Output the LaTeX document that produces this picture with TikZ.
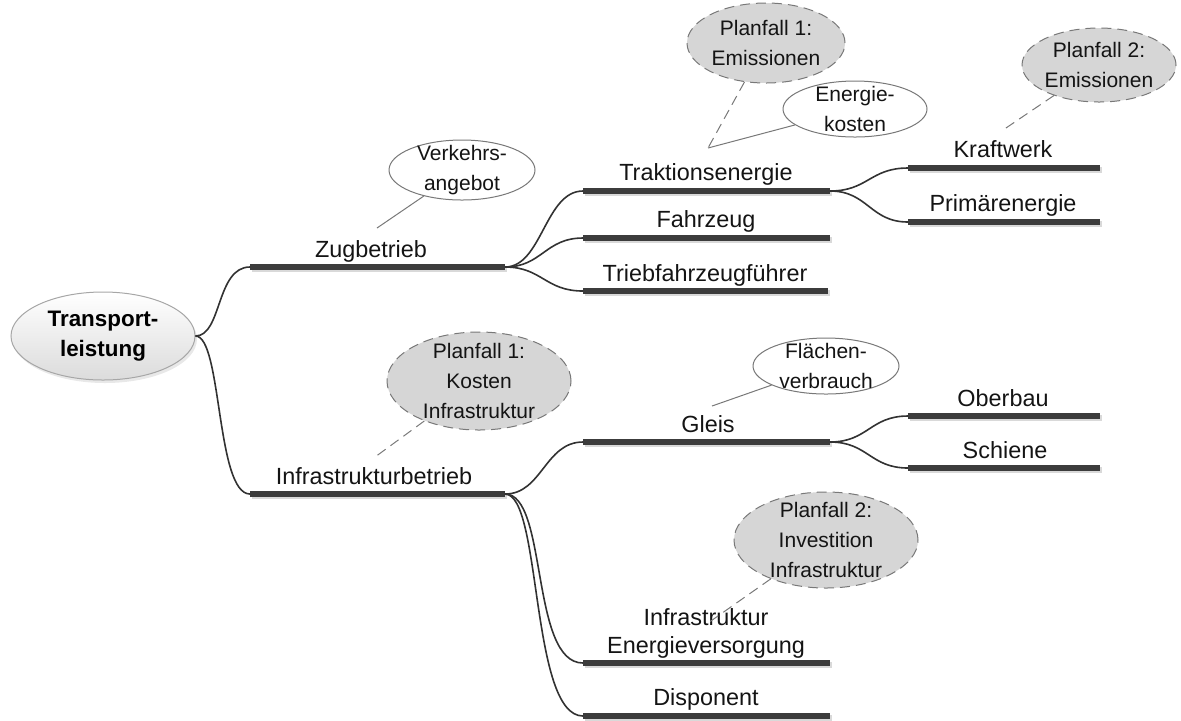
\documentclass[tikz,border=0pt]{standalone}
\usepackage{fontspec}
\setmainfont{Liberation Sans}
\usetikzlibrary{shapes.geometric}
\definecolor{barc}{RGB}{60,60,60}
\definecolor{connc}{RGB}{50,50,50}
\definecolor{txt}{RGB}{20,20,20}
\definecolor{bubfill}{RGB}{214,214,214}
\definecolor{bubline}{RGB}{120,120,120}
\begin{document}
\begin{tikzpicture}[x=0.5pt,y=-0.5pt,
  bar/.style={line width=2.8pt, draw=barc},
  barshadow/.style={line width=2.8pt, draw=gray!30},
  conn/.style={line width=0.8pt, draw=connc},
  lbl/.style={font=\fontsize{11.7}{14}\selectfont, anchor=base, inner sep=0pt, text=txt, align=center},
  bub/.style={ellipse, draw=bubline, line width=0.5pt, fill=white, inner sep=0pt},
  pbub/.style={bub, fill=bubfill, dash pattern=on 5pt off 3pt},
  btxt/.style={font=\fontsize{10.5}{15}\selectfont, align=center, text=txt, inner sep=0pt},
  tie/.style={draw=bubline, line width=0.5pt},
  ptie/.style={tie, dash pattern=on 5pt off 3pt}]
\useasboundingbox (0,0) rectangle (1181,720);

% central node
\fill[gray!18] (105,339) ellipse [x radius=92, y radius=44];
\node[ellipse, draw=gray!70, line width=0.5pt, top color=white, bottom color=gray!28,
  inner sep=0pt, minimum width=92pt, minimum height=44pt,
  font=\fontsize{11.2}{15}\selectfont\bfseries, align=center] (trans) at (103,336) {Transport-\\leistung};

% bar coordinates
\coordinate (zugL) at (250,267);  \coordinate (zugR) at (505,267);
\coordinate (infL) at (250,494);  \coordinate (infR) at (505,494);
\coordinate (traL) at (583,191);  \coordinate (traR) at (830,191);
\coordinate (fahL) at (583,238);  \coordinate (fahR) at (830,238);
\coordinate (triL) at (583,291);  \coordinate (triR) at (828,291);
\coordinate (kraL) at (908,168);  \coordinate (kraR) at (1100,168);
\coordinate (priL) at (908,222);  \coordinate (priR) at (1100,222);
\coordinate (gleL) at (583,442);  \coordinate (gleR) at (830,442);
\coordinate (oatL) at (908,416);  \coordinate (oatR) at (1100,416);
\coordinate (schL) at (908,468);  \coordinate (schR) at (1100,468);
\coordinate (ievL) at (583,663);  \coordinate (ievR) at (830,663);
\coordinate (disL) at (583,716);  \coordinate (disR) at (830,716);

% shadows and bars
\foreach \b in {zug,inf,tra,fah,tri,kra,pri,gle,oat,sch,iev,dis}{
  \draw[barshadow] ([shift={(1.5,2)}]\b L) -- ([shift={(1.5,2)}]\b R);
  \draw[bar] (\b L) -- (\b R);
}

% connectors
\draw[conn] (trans.east) .. controls (222,336) and (216,267) .. (zugL);
\draw[conn] (trans.east) .. controls (222,336) and (216,494) .. (infL);
\draw[conn] (zugR) .. controls (542,267) and (545,191) .. (traL);
\draw[conn] (zugR) .. controls (542,267) and (545,238) .. (fahL);
\draw[conn] (zugR) .. controls (542,267) and (545,291) .. (triL);
\draw[conn] (traR) .. controls (868,191) and (870,168) .. (kraL);
\draw[conn] (traR) .. controls (868,191) and (870,222) .. (priL);
\draw[conn] (gleR) .. controls (868,442) and (870,416) .. (oatL);
\draw[conn] (gleR) .. controls (868,442) and (870,468) .. (schL);
\draw[conn] (infR) .. controls (542,494) and (545,442) .. (gleL);
\draw[conn] (infR) .. controls (548,494) and (530,663) .. (ievL);
\draw[conn] (infR) .. controls (542,494) and (530,716) .. (disL);

% labels
\node[lbl] (zug) at (371,257) {Zugbetrieb};
\node[lbl] (inf) at (374,484) {Infrastrukturbetrieb};
\node[lbl] (tra) at (706,180) {Traktionsenergie};
\node[lbl] (fah) at (706,227) {Fahrzeug};
\node[lbl] (tri) at (705,281) {Triebfahrzeugführer};
\node[lbl] (kra) at (1003,157) {Kraftwerk};
\node[lbl] (pri) at (1003,211) {Primärenergie};
\node[lbl] (gle) at (708,432) {Gleis};
\node[lbl] (oat) at (1003,406) {Oberbau};
\node[lbl] (sch) at (1005,458) {Schiene};
\node[lbl] (iev) at (706,653) {Infrastruktur\\Energieversorgung};
\node[lbl] (dis) at (706,705) {Disponent};

% bubble tie ends
\coordinate (zugTip) at (377,228);
\coordinate (traTip) at (708,148);
\coordinate (kraTip) at (1003,130);
\coordinate (infTip) at (375,457);
\coordinate (gleTip) at (712,406);
\coordinate (ievTip) at (708,623);

% bubbles
\node[bub, minimum width=73pt, minimum height=30pt] (verk) at (462,170) {};
\node[pbub, minimum width=79pt, minimum height=40pt] (pf1e) at (766,43) {};
\node[bub, minimum width=72pt, minimum height=28pt] (ener) at (855,109) {};
\node[pbub, minimum width=77pt, minimum height=37pt] (pf2e) at (1099,65) {};
\node[pbub, minimum width=92pt, minimum height=49pt] (pf1k) at (479,381) {};
\node[bub, minimum width=73pt, minimum height=28pt] (flae) at (826,366) {};
\node[pbub, minimum width=92pt, minimum height=48pt] (pf2i) at (826,540) {};

\draw[tie] (verk) -- (zugTip);
\draw[ptie] (pf1e) -- (traTip);
\draw[tie] (ener) -- (traTip);
\draw[ptie] (pf2e) -- (kraTip);
\draw[ptie] (pf1k) -- (infTip);
\draw[tie] (flae) -- (gleTip);
\draw[ptie] (pf2i) -- (ievTip);

\node[btxt] (verkT) at (verk) {Verkehrs-\\angebot};
\node[btxt] (pf1eT) at (pf1e) {Planfall 1:\\Emissionen};
\node[btxt] (enerT) at (ener) {Energie-\\kosten};
\node[btxt] (pf2eT) at (pf2e) {Planfall 2:\\Emissionen};
\node[btxt] (pf1kT) at (pf1k) {Planfall 1:\\Kosten\\Infrastruktur};
\node[btxt] (flaeT) at (flae) {Flächen-\\verbrauch};
\node[btxt] (pf2iT) at (pf2i) {Planfall 2:\\Investition\\Infrastruktur};
\end{tikzpicture}
\end{document}
